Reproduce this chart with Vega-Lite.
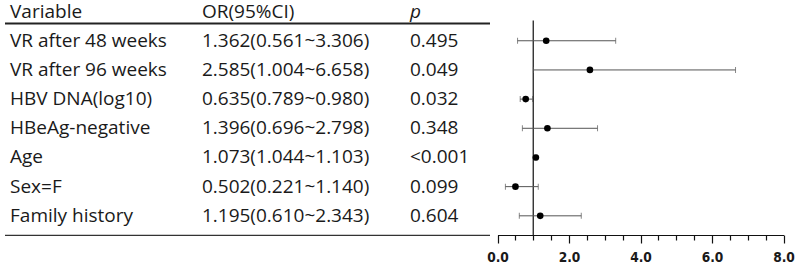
{
  "$schema": "https://vega.github.io/schema/vega-lite/v6.json",
  "width": 796,
  "height": 235,
  "autosize": {"type": "none"},
  "padding": {"left": 0, "top": 0, "right": 0, "bottom": 28},
  "config": {"view": {"stroke": null}},
  "datasets": {
    "rows": [
      {"var": "VR after 48 weeks", "ci": "1.362(0.561~3.306)", "p": "0.495", "est": 1.362, "lo": 0.561, "hi": 3.306},
      {"var": "VR after 96 weeks", "ci": "2.585(1.004~6.658)", "p": "0.049", "est": 2.585, "lo": 1.004, "hi": 6.658},
      {"var": "HBV DNA(log10)", "ci": "0.635(0.789~0.980)", "p": "0.032", "est": 0.789, "lo": 0.635, "hi": 0.98},
      {"var": "HBeAg-negative", "ci": "1.396(0.696~2.798)", "p": "0.348", "est": 1.396, "lo": 0.696, "hi": 2.798},
      {"var": "Age", "ci": "1.073(1.044~1.103)", "p": "<0.001", "est": 1.073, "lo": 1.044, "hi": 1.103},
      {"var": "Sex=F", "ci": "0.502(0.221~1.140)", "p": "0.099", "est": 0.502, "lo": 0.221, "hi": 1.14},
      {"var": "Family history", "ci": "1.195(0.610~2.343)", "p": "0.604", "est": 1.195, "lo": 0.61, "hi": 2.343}
    ],
    "header": [
      {"col": "var", "label": "Variable"},
      {"col": "or", "label": "OR(95%CI)"},
      {"col": "p", "label": "p"}
    ],
    "ref": [{"ref": 1}]
  },
  "encoding": {
    "y": {
      "type": "nominal",
      "scale": {
        "type": "band",
        "domain": ["Variable", "VR after 48 weeks", "VR after 96 weeks", "HBV DNA(log10)", "HBeAg-negative", "Age", "Sex=F", "Family history"],
        "range": [-3, 230.4],
        "paddingInner": 0,
        "paddingOuter": 0
      },
      "axis": null
    }
  },
  "layer": [
    {
      "layer": [
        {
          "data": {"name": "rows"},
          "mark": {"type": "text", "align": "left", "baseline": "middle", "font": "Open Sans", "fontSize": 19, "color": "#1a1a1a"},
          "encoding": {
            "x": {"datum": "var", "type": "nominal", "bandPosition": 0.031,
                  "scale": {"type": "band", "domain": ["var", "or", "p"], "range": [5, 490], "paddingInner": 0, "paddingOuter": 0},
                  "axis": null},
            "y": {"field": "var", "type": "nominal"},
            "text": {"field": "var"}
          }
        },
        {
          "data": {"name": "rows"},
          "mark": {"type": "text", "align": "left", "baseline": "middle", "font": "Open Sans", "fontSize": 19, "color": "#1a1a1a"},
          "encoding": {
            "x": {"datum": "or", "type": "nominal", "bandPosition": 0.218},
            "y": {"field": "var", "type": "nominal"},
            "text": {"field": "ci"}
          }
        },
        {
          "data": {"name": "rows"},
          "mark": {"type": "text", "align": "left", "baseline": "middle", "font": "Open Sans", "fontSize": 19, "color": "#1a1a1a"},
          "encoding": {
            "x": {"datum": "p", "type": "nominal", "bandPosition": 0.505},
            "y": {"field": "var", "type": "nominal"},
            "text": {"field": "p"}
          }
        },
        {
          "data": {"name": "header"},
          "transform": [{"filter": "datum.col === 'var'"}],
          "mark": {"type": "text", "align": "left", "baseline": "middle", "font": "Open Sans", "fontSize": 19, "color": "#1a1a1a"},
          "encoding": {
            "x": {"datum": "var", "type": "nominal", "bandPosition": 0.031},
            "y": {"datum": "Variable", "type": "nominal"},
            "text": {"field": "label"}
          }
        },
        {
          "data": {"name": "header"},
          "transform": [{"filter": "datum.col === 'or'"}],
          "mark": {"type": "text", "align": "left", "baseline": "middle", "font": "Open Sans", "fontSize": 19, "color": "#1a1a1a"},
          "encoding": {
            "x": {"datum": "or", "type": "nominal", "bandPosition": 0.218},
            "y": {"datum": "Variable", "type": "nominal"},
            "text": {"field": "label"}
          }
        },
        {
          "data": {"name": "header"},
          "transform": [{"filter": "datum.col === 'p'"}],
          "mark": {"type": "text", "align": "left", "baseline": "middle", "font": "Open Sans", "fontSize": 19, "fontStyle": "italic", "color": "#1a1a1a"},
          "encoding": {
            "x": {"datum": "p", "type": "nominal", "bandPosition": 0.505},
            "y": {"datum": "Variable", "type": "nominal"},
            "text": {"field": "label"}
          }
        },
        {
          "data": {"name": "ref"},
          "mark": {"type": "rule", "color": "#222", "strokeWidth": 2},
          "encoding": {
            "x": {"datum": "var", "type": "nominal", "bandPosition": 0},
            "x2": {"datum": "p", "bandPosition": 1},
            "y": {"datum": "Variable", "type": "nominal", "bandPosition": 0.908}
          }
        },
        {
          "data": {"name": "ref"},
          "mark": {"type": "rule", "color": "#333", "strokeWidth": 1.2},
          "encoding": {
            "x": {"datum": "var", "type": "nominal", "bandPosition": 0},
            "x2": {"datum": "p", "bandPosition": 1},
            "y": {"datum": "Family history", "type": "nominal", "bandPosition": 1.17}
          }
        }
      ]
    },
    {
      "layer": [
        {
          "data": {"name": "ref"},
          "mark": {"type": "rule", "color": "#222", "strokeWidth": 1.3},
          "encoding": {
            "x": {"field": "ref", "type": "quantitative",
                  "scale": {"domain": [0, 8], "range": [497.5, 783.5], "nice": false, "zero": false},
                  "axis": {
                    "orient": "bottom",
                    "values": [0, 0.5, 1, 1.5, 2, 2.5, 3, 3.5, 4, 4.5, 5, 5.5, 6, 6.5, 7, 7.5, 8],
                    "labelExpr": "datum.value % 2 === 0 ? format(datum.value, '.1f') : ''",
                    "tickSize": {"condition": {"test": "datum.value % 2 === 0", "value": 8}, "value": 5},
                    "domainColor": "#111", "domainWidth": 1.2,
                    "tickColor": "#111", "tickWidth": 1.2,
                    "labelFont": "DejaVu Sans Condensed", "labelFontWeight": "bold", "labelFontSize": 13.6, "labelColor": "#1a1a1a",
                    "labelPadding": 7, "labelFlush": false, "labelOverlap": false,
                    "grid": false, "title": null
                  }},
            "y": {"datum": "Variable", "type": "nominal", "bandPosition": 0.805},
            "y2": {"datum": "Family history", "bandPosition": 1.16}
          }
        },
        {
          "data": {"name": "rows"},
          "mark": {"type": "rule", "color": "#555", "strokeWidth": 1},
          "encoding": {
            "x": {"field": "lo", "type": "quantitative"},
            "x2": {"field": "hi"},
            "y": {"field": "var", "type": "nominal"}
          }
        },
        {
          "data": {"name": "rows"},
          "mark": {"type": "tick", "orient": "vertical", "color": "#555", "size": 6, "thickness": 1},
          "encoding": {
            "x": {"field": "lo", "type": "quantitative"},
            "y": {"field": "var", "type": "nominal"}
          }
        },
        {
          "data": {"name": "rows"},
          "mark": {"type": "tick", "orient": "vertical", "color": "#555", "size": 6, "thickness": 1},
          "encoding": {
            "x": {"field": "hi", "type": "quantitative"},
            "y": {"field": "var", "type": "nominal"}
          }
        },
        {
          "data": {"name": "rows"},
          "mark": {"type": "circle", "color": "#000", "opacity": 1, "size": 44},
          "encoding": {
            "x": {"field": "est", "type": "quantitative"},
            "y": {"field": "var", "type": "nominal"}
          }
        }
      ]
    }
  ],
  "resolve": {"scale": {"x": "independent"}, "axis": {"x": "independent"}}
}
